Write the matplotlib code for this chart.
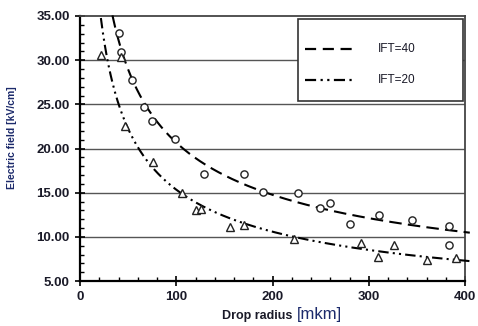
import numpy as np
import matplotlib
matplotlib.use("Agg")
import matplotlib.pyplot as plt
from matplotlib.patches import Rectangle
from matplotlib.lines import Line2D

# ---- data ----
ift40_x = [40, 43, 54, 66, 75, 99, 129, 170, 190, 226, 249, 260, 281, 311, 345, 383, 383]
ift40_y = [33.1, 30.9, 27.8, 24.7, 23.1, 21.1, 17.1, 17.15, 15.1, 14.95, 13.3, 13.8, 11.4, 12.5, 11.9, 11.25, 9.1]

ift20_x = [22, 43, 47, 76, 106, 121, 126, 156, 170, 222, 292, 310, 326, 361, 391]
ift20_y = [30.6, 30.4, 22.5, 18.5, 15.0, 13.0, 13.2, 11.1, 11.3, 9.7, 9.3, 7.7, 9.1, 7.4, 7.6]

labels = ["IFT=40", "IFT=20"]
x_ticks = [0, 100, 200, 300, 400]
y_ticks = [5, 10, 15, 20, 25, 30, 35]

plt.rcParams['font.family'] = ['Liberation Sans', 'DejaVu Sans']

fig = plt.figure(figsize=(4.78, 3.26), dpi=100)
ax = fig.add_axes([80/478, 1-281/326, (465-80)/478, (281-16)/326])

ax.set_xlim(0, 400)
ax.set_ylim(5, 35)

# gridlines
for yv in y_ticks[1:-1]:
    ax.axhline(yv, color='#555555', lw=1.0, zorder=1)

# power-law trend lines fitted to each series (log-log least squares)
def fit_curve(xs, ys):
    b, loga = np.polyfit(np.log(xs), np.log(ys), 1)
    xx = np.linspace(5, 405, 600)
    yy = np.exp(loga) * xx ** b
    m = yy <= 35.3
    return xx[m], yy[m]

cx, cy = fit_curve(ift40_x, ift40_y)
ax.plot(cx, cy, color='black', lw=1.5, dashes=(6, 3), clip_on=False, zorder=3)
tx, ty = fit_curve(ift20_x, ift20_y)
ax.plot(tx, ty, color='black', lw=1.5, dashes=(5, 2, 1, 2, 1, 2), clip_on=False, zorder=3)

ax.plot(ift40_x, ift40_y, linestyle='none', marker='o', ms=5.2, mfc='white',
        mec='#222222', mew=1.0, zorder=4)
ax.plot(ift20_x, ift20_y, linestyle='none', marker='^', ms=5.2, mfc='white',
        mec='#222222', mew=1.0, zorder=4)

# ticks
ax.set_xticks(x_ticks)
ax.set_xticklabels([str(v) for v in x_ticks])
ax.set_yticks(y_ticks)
ax.set_yticklabels([f"{v:.2f}" for v in y_ticks])
ax.set_xticks(np.arange(0, 401, 20), minor=True)
ax.set_yticks(np.arange(5, 36, 1), minor=True)
ax.tick_params(axis='both', which='major', direction='inout', length=7, width=1.2,
               labelsize=9.5, colors='black', labelcolor='#1a1a28', pad=4)
ax.tick_params(axis='both', which='minor', direction='in', length=3, width=1.0)
for lab in ax.get_xticklabels() + ax.get_yticklabels():
    lab.set_fontweight('bold')

for s in ['left', 'bottom']:
    ax.spines[s].set_linewidth(1.6)
    ax.spines[s].set_color('black')
for s in ['top', 'right']:
    ax.spines[s].set_linewidth(1.3)
    ax.spines[s].set_color('#444444')

# axis labels
fig.text(12/478, 1-138/326, "Electric field [kV/cm]", rotation=90, ha='center', va='center',
         fontsize=7.5, color='#1c2a6b', fontweight='bold')
fig.text(292/478, 1-316/326, "Drop radius", ha='right', va='center', fontsize=9,
         color='#1a1a28', fontweight='bold')
fig.text(297/478, 1-315/326, "[mkm]", ha='left', va='center', fontsize=12,
         color='#1c2a6b')

# legend box
bx0, bx1 = (298-80)/385, (463-80)/385
by0, by1 = (281-101)/265, (281-19)/265
ax.add_patch(Rectangle((bx0, by0), bx1-bx0, by1-by0, transform=ax.transAxes,
                       facecolor='white', edgecolor='#333333', lw=1.2, zorder=5))
lx0, lx1 = (305-80)/385, (353-80)/385
ly = [(281-49)/265, (281-80)/265]
ax.add_line(Line2D([lx0, lx1], [ly[0]]*2, transform=ax.transAxes, color='black',
                   lw=1.6, dashes=(5, 3), zorder=6))
ax.add_line(Line2D([lx0, lx1], [ly[1]]*2, transform=ax.transAxes, color='black',
                   lw=1.6, dashes=(5, 2, 1, 2, 1, 2), zorder=6))
for lab, yy in zip(labels, ly):
    ax.text((378-80)/385, yy, lab, transform=ax.transAxes, fontsize=8.5,
            va='center', ha='left', color='#1a1a28', zorder=6)

fig.savefig("out.png", dpi=100)
